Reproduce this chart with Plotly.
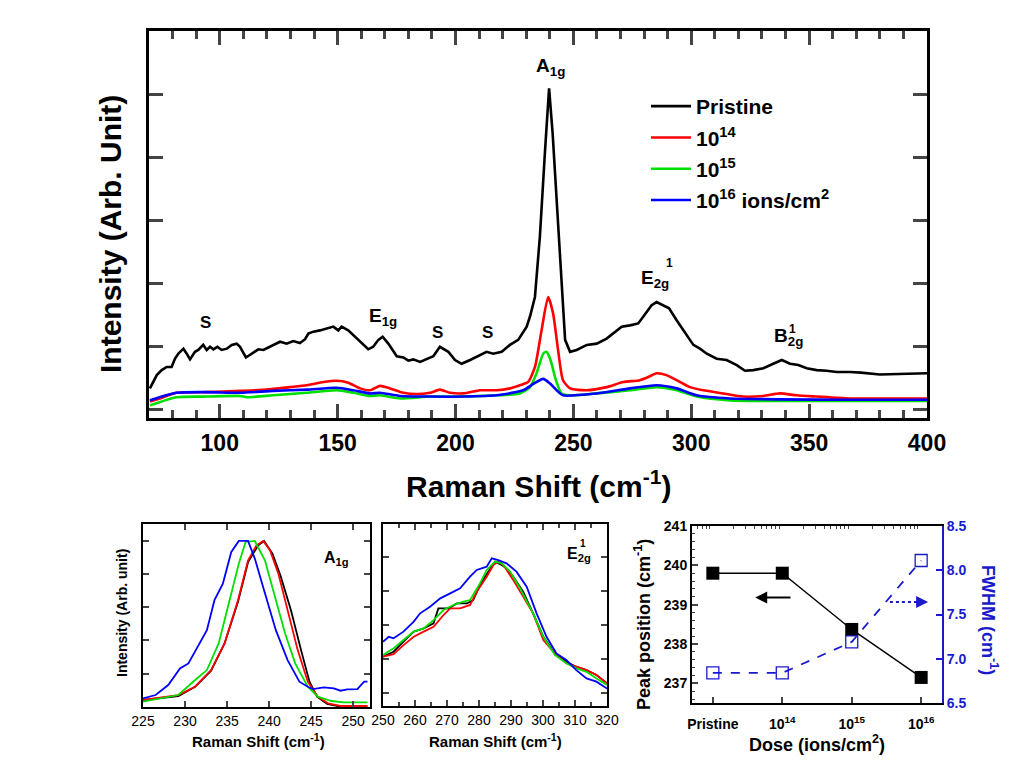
import plotly.graph_objects as go

FONT = "Liberation Sans, Arial, sans-serif"
BLACK, RED, GREEN, BLUE, NAVY = "#000000", "#ff0000", "#00e000", "#0000ff", "#1a1acc"

# ---------------- main spectrum data ----------------
pr_x = [70.4, 73.3, 75.4, 77.5, 79.6, 81.0, 82.4, 84.6, 86.0, 87.4, 89.5, 90.9, 93.0, 94.5, 95.9, 97.3, 99.0,
        100.8, 103.0, 105.1, 107.2, 108.6, 111.1, 113.6, 116.4, 118.5, 120.6, 122.7, 125.6, 128.4, 131.2,
        134.0, 136.2, 137.6, 139.7, 142.5, 145.4, 148.2, 150.3, 151.7, 154.5, 156.7, 160.2, 163.0, 165.1,
        167.3, 169.1, 171.5, 175.1, 177.9, 180.0, 182.1, 185.0, 187.8, 190.6, 193.4, 197.0, 199.8, 202.6,
        206.2, 210.4, 213.2, 216.0, 219.6, 223.1, 226.6, 230.2, 231.6, 233.7, 235.8, 238.0, 239.7, 241.2,
        242.9, 244.8, 246.5, 248.6, 251.4, 255.7, 259.9, 264.1, 266.9, 270.5, 274.0, 277.5, 279.7, 283.2,
        285.3, 288.1, 290.6, 293.8, 296.6, 300.9, 303.7, 306.6, 310.8, 315.0, 319.3, 322.8, 326.3, 330.6,
        334.8, 338.4, 341.9, 345.4, 349.0, 353.2, 357.4, 361.7, 367.3, 372.0, 380.0, 390.0, 400.0]
pr_y = [0.33, 0.54, 0.62, 0.67, 0.67, 0.80, 0.88, 0.96, 0.88, 0.79, 0.91, 0.94, 1.02, 0.94, 0.99, 0.95, 0.99,
        0.94, 0.96, 1.02, 1.04, 0.99, 0.82, 0.88, 0.95, 0.94, 0.98, 1.02, 1.07, 1.04, 1.08,
        1.05, 1.11, 1.20, 1.23, 1.25, 1.28, 1.31, 1.25, 1.31, 1.25, 1.17, 1.04, 0.95, 0.99,
        1.10, 1.15, 1.04, 0.84, 0.82, 0.77, 0.79, 0.75, 0.79, 0.84, 0.99, 0.91, 0.78, 0.72,
        0.78, 0.86, 0.91, 0.88, 0.91, 1.02, 1.10, 1.31, 1.47, 1.78, 2.74, 4.11, 5.09, 4.38,
        3.32, 2.00, 1.10, 0.91, 0.94, 1.02, 1.04, 1.12, 1.20, 1.31, 1.33, 1.36, 1.47, 1.65,
        1.70, 1.65, 1.60, 1.41, 1.25, 1.02, 0.96, 0.88, 0.80, 0.78, 0.70, 0.61, 0.62, 0.65,
        0.72, 0.78, 0.72, 0.70, 0.65, 0.62, 0.61, 0.59, 0.59, 0.58, 0.55, 0.56, 0.57]

d14_x = [70.4, 74.6, 81.7, 94.5, 108.6, 119.9, 129.8, 136.9, 144.0, 149.6, 154.5, 159.5, 163.7, 168.0, 172.2,
         177.9, 183.5, 189.2, 193.4, 197.7, 203.3, 210.4, 217.4, 223.1, 227.3, 230.8, 233.7, 236.5, 239.3,
         241.4, 243.5, 245.6, 248.6, 255.7, 264.1, 271.2, 278.2, 281.8, 285.3, 289.5, 293.8, 299.4, 305.1,
         313.5, 322.0, 330.6, 337.6, 344.7, 353.2, 367.3, 385.0, 400.0]
d14_y = [0.12, 0.17, 0.26, 0.27, 0.29, 0.31, 0.35, 0.38, 0.43, 0.45, 0.42, 0.33, 0.30, 0.37, 0.33,
         0.26, 0.24, 0.26, 0.31, 0.26, 0.25, 0.30, 0.30, 0.33, 0.38, 0.43, 0.67, 1.25, 1.78,
         1.52, 0.94, 0.46, 0.33, 0.30, 0.35, 0.43, 0.46, 0.51, 0.57, 0.54, 0.46, 0.35, 0.30,
         0.25, 0.20, 0.21, 0.25, 0.22, 0.20, 0.17, 0.17, 0.17]

d15_x = [70.4, 81.7, 94.5, 108.6, 111.5, 122.7, 136.9, 149.6, 156.7, 163.7, 168.0, 176.5, 189.2, 203.3,
         217.4, 227.3, 231.6, 234.4, 237.2, 238.6, 240.3, 242.6, 245.0, 248.6, 259.9, 274.0, 285.3,
         293.8, 302.3, 316.4, 367.3, 400.0]
d15_y = [0.06, 0.19, 0.20, 0.21, 0.19, 0.22, 0.26, 0.30, 0.26, 0.21, 0.22, 0.17, 0.20, 0.20,
         0.22, 0.25, 0.35, 0.57, 0.88, 0.91, 0.78, 0.46, 0.25, 0.22, 0.25, 0.30, 0.35,
         0.30, 0.20, 0.14, 0.13, 0.13]

d16_x = [70.4, 81.7, 94.5, 108.6, 122.7, 136.9, 149.6, 156.7, 163.7, 168.0, 176.5, 189.2, 203.3, 217.4,
         228.7, 233.0, 237.2, 240.0, 242.9, 245.6, 259.9, 274.0, 285.3, 293.8, 302.3, 316.4, 367.3, 400.0]
d16_y = [0.14, 0.26, 0.27, 0.26, 0.29, 0.31, 0.34, 0.30, 0.25, 0.26, 0.21, 0.20, 0.20, 0.22,
         0.30, 0.40, 0.48, 0.41, 0.30, 0.22, 0.25, 0.33, 0.38, 0.33, 0.22, 0.17, 0.15, 0.15]

legend_names = ["Pristine", "10<sup>14</sup>", "10<sup>15</sup>", "10<sup>16</sup> ions/cm<sup>2</sup>"]

# ---------------- A1g zoom (normalised) ----------------
a_pr_x = [225.0, 229.2, 231.2, 233.1, 234.7, 236.3, 237.5, 238.7, 239.4, 240.4, 241.4, 242.6, 243.8, 244.8,
          245.7, 246.9, 248.5, 251.7]
a_pr_y = [0.042, 0.066, 0.122, 0.218, 0.382, 0.632, 0.872, 0.972, 0.998, 0.922, 0.782, 0.582, 0.342, 0.152,
          0.062, 0.018, 0.002, 0.002]
a_14_x = [225.0, 229.2, 231.2, 233.1, 234.7, 236.3, 237.5, 238.5, 239.3, 240.1, 241.1, 242.2, 243.4, 244.6,
          245.8, 247.0, 248.5, 251.7]
a_14_y = [0.042, 0.072, 0.122, 0.222, 0.382, 0.642, 0.882, 0.972, 0.998, 0.942, 0.802, 0.582, 0.342, 0.152,
          0.062, 0.022, 0.006, 0.006]
a_15_x = [225.0, 229.2, 231.2, 232.6, 234.0, 235.1, 236.4, 237.2, 238.3, 239.5, 240.7, 241.9, 243.1, 244.6,
          245.8, 247.4, 248.9, 251.7]
a_15_y = [0.032, 0.072, 0.162, 0.222, 0.382, 0.602, 0.862, 0.992, 0.998, 0.882, 0.662, 0.442, 0.262, 0.122,
          0.062, 0.036, 0.028, 0.028]
a_16_x = [225.0, 226.5, 228.0, 229.4, 230.4, 232.6, 233.5, 234.5, 235.5, 236.4, 237.5, 238.3, 239.4, 240.8,
          242.2, 243.6, 244.6, 245.2, 246.5, 247.7, 248.5, 249.3, 250.5, 251.3, 251.7]
a_16_y = [0.052, 0.072, 0.132, 0.232, 0.262, 0.462, 0.642, 0.742, 0.932, 0.998, 0.998, 0.892, 0.702, 0.462,
          0.282, 0.152, 0.122, 0.108, 0.118, 0.112, 0.098, 0.106, 0.108, 0.152, 0.152]

# ---------------- E2g zoom (normalised) ----------------
e_pr_x = [250.0, 253.3, 256.4, 259.6, 262.7, 265.8, 267.3, 270.5, 273.1, 276.2, 278.2, 280.3, 282.9, 285.0,
          287.1, 288.6, 290.7, 293.8, 296.9, 300.1, 303.7, 307.3, 310.4, 313.6, 316.7, 320.0]
e_pr_y = [0.414, 0.443, 0.502, 0.561, 0.580, 0.610, 0.698, 0.698, 0.727, 0.727, 0.747, 0.835, 0.914, 0.973,
          0.953, 0.933, 0.884, 0.796, 0.669, 0.531, 0.433, 0.384, 0.355, 0.335, 0.306, 0.257]
e_14_x = [250.0, 253.3, 256.4, 259.6, 262.7, 265.8, 268.9, 271.0, 274.1, 277.2, 279.3, 282.4, 284.5, 286.0,
          287.6, 290.7, 293.8, 296.9, 300.1, 303.7, 307.3, 310.4, 313.6, 316.7, 320.0]
e_14_y = [0.414, 0.429, 0.482, 0.531, 0.561, 0.590, 0.659, 0.698, 0.698, 0.718, 0.796, 0.884, 0.953, 0.973,
          0.953, 0.865, 0.767, 0.669, 0.512, 0.433, 0.375, 0.355, 0.335, 0.306, 0.257]
e_15_x = [250.0, 253.3, 256.4, 259.6, 262.7, 265.8, 268.9, 272.0, 275.1, 277.2, 280.3, 282.4, 285.0, 287.1,
          289.7, 292.8, 296.9, 300.1, 303.7, 307.3, 310.4, 313.6, 316.7, 320.0]
e_15_y = [0.424, 0.463, 0.512, 0.561, 0.580, 0.629, 0.688, 0.718, 0.737, 0.747, 0.845, 0.924, 0.973, 0.963,
          0.914, 0.816, 0.669, 0.531, 0.424, 0.375, 0.345, 0.325, 0.286, 0.247]
e_16_x = [250.0, 251.8, 253.3, 256.4, 259.6, 261.6, 264.7, 267.9, 271.0, 274.1, 277.2, 279.3, 282.4, 284.0,
          286.0, 288.6, 291.7, 294.9, 298.0, 301.1, 304.2, 307.3, 310.4, 313.6, 316.7, 320.0]
e_16_y = [0.502, 0.531, 0.522, 0.561, 0.620, 0.669, 0.708, 0.757, 0.786, 0.816, 0.884, 0.924, 0.943, 0.992,
          0.982, 0.963, 0.914, 0.825, 0.669, 0.531, 0.433, 0.394, 0.335, 0.286, 0.267, 0.227]

# ---------------- dose dependence ----------------
dose = [1e13, 1e14, 1e15, 1e16]
dose_labels = ["Pristine", "10<sup>14</sup>", "10<sup>15</sup>", "10<sup>16</sup>"]
peak_pos = [239.8, 239.8, 238.37, 237.15]
fwhm = [6.84, 6.84, 7.19, 8.11]

fig = go.Figure()

cols = [BLACK, RED, GREEN, BLUE]
main_sets = [(pr_x, pr_y), (d14_x, d14_y), (d15_x, d15_y), (d16_x, d16_y)]
for i, ((xs, ys), c, nm) in enumerate(zip(main_sets, cols, legend_names)):
    fig.add_trace(go.Scatter(x=xs, y=ys, mode="lines", name=nm, legendgroup=f"g{i}",
                             line=dict(color=c, width=2.6, shape="linear" if i == 0 else "spline", smoothing=0.6),
                             xaxis="x", yaxis="y"))

a_sets = [(a_pr_x, a_pr_y), (a_14_x, a_14_y), (a_15_x, a_15_y), (a_16_x, a_16_y)]
for (xs, ys), c in zip(a_sets, cols):
    fig.add_trace(go.Scatter(x=xs, y=ys, mode="lines", showlegend=False,
                             line=dict(color=c, width=1.8), xaxis="x2", yaxis="y2"))
e_sets = [(e_pr_x, e_pr_y), (e_14_x, e_14_y), (e_15_x, e_15_y), (e_16_x, e_16_y)]
for (xs, ys), c in zip(e_sets, cols):
    fig.add_trace(go.Scatter(x=xs, y=ys, mode="lines", showlegend=False,
                             line=dict(color=c, width=1.8), xaxis="x3", yaxis="y3"))

fig.add_trace(go.Scatter(x=dose, y=fwhm, mode="lines+markers", showlegend=False,
                         line=dict(color=NAVY, width=1.8, dash="dash"),
                         marker=dict(symbol="square-open", size=12, color=NAVY, line=dict(width=1.3)),
                         xaxis="x4", yaxis="y5"))
fig.add_trace(go.Scatter(x=dose, y=peak_pos, mode="lines+markers", showlegend=False,
                         line=dict(color=BLACK, width=1.4),
                         marker=dict(symbol="square", size=13, color=BLACK),
                         xaxis="x4", yaxis="y4"))
# dotted arrow shaft for FWHM
fig.add_trace(go.Scatter(x=[10 ** 15.55, 10 ** 15.97], y=[7.64, 7.64], mode="lines", showlegend=False,
                         line=dict(color=NAVY, width=2, dash="dot"), xaxis="x4", yaxis="y5"))
# helper trace so the top minor-tick axis is drawn
fig.add_trace(go.Scatter(x=[1e13], y=[None], mode="lines", showlegend=False, xaxis="x5", yaxis="y4"))

# page body has an 8px margin: figure is 1010x753 and target pixels are shifted by 8
OFF, W, H = 8, 1010, 753
def P(px, py):
    return (px - OFF) / W, 1 - (py - OFF) / H

tickfont_main = dict(family=FONT, size=23, color="black", weight="bold")
ax_common = dict(showgrid=False, zeroline=False, showline=True, linecolor="black", mirror="ticks",
                 ticks="inside", automargin=False)

x0, y0 = P(149, 418); x1, y1 = P(927, 31)
fig.update_layout(
    xaxis=dict(domain=[x0, x1], anchor="y", range=[70, 400], tick0=0, dtick=50, tickfont=tickfont_main,
               linewidth=3, tickwidth=2.5, ticklen=14, ticklabelstandoff=2,
               minor=dict(dtick=10, ticklen=8, tickwidth=2.5, ticks="inside"), **ax_common),
    yaxis=dict(domain=[y0, y1], anchor="x", range=[-0.14, 6.0], tick0=0, dtick=1, showticklabels=False,
               linewidth=3, tickwidth=2.5, ticklen=14, **ax_common),
)

small_tick = dict(family=FONT, size=14, color="black")
bx0, by0 = P(143, 707); bx1, by1 = P(370, 524)
fig.update_layout(
    xaxis2=dict(domain=[bx0, bx1], anchor="y2", range=[225, 252], tick0=225, dtick=5, tickfont=small_tick,
                linewidth=2, tickwidth=1.8, ticklen=6, **ax_common),
    yaxis2=dict(domain=[by0, by1], anchor="x2", range=[0, 1.1], tick0=0, dtick=0.2, showticklabels=False,
                linewidth=2, tickwidth=1.8, ticklen=6, **ax_common),
)
cx0, cy0 = P(383, 706); cx1, cy1 = P(607, 524)
fig.update_layout(
    xaxis3=dict(domain=[cx0, cx1], anchor="y3", range=[250, 320], tick0=250, dtick=10, tickfont=small_tick,
                linewidth=2, tickwidth=1.8, ticklen=6,
                minor=dict(dtick=5, ticklen=4, tickwidth=1.5, ticks="inside"), **ax_common),
    yaxis3=dict(domain=[cy0, cy1], anchor="x3", range=[0.124, 1.194], tick0=0, dtick=0.2,
                showticklabels=False, linewidth=2, tickwidth=1.8, ticklen=6, **ax_common),
)
dx0, dy0 = P(692, 703); dx1, dy1 = P(942, 526)
bold14 = dict(family=FONT, size=14, color="black", weight="bold")
fig.update_layout(
    xaxis4=dict(domain=[dx0, dx1], anchor="y4", type="log", range=[12.7, 16.3], tickvals=dose,
                ticktext=dose_labels, tickfont=bold14, linewidth=2, tickwidth=1.6, ticklen=6,
                ticklabelstandoff=7,
                showgrid=False, zeroline=False, showline=True, linecolor="black", mirror=True, ticks="inside",
                automargin=False),
    xaxis5=dict(overlaying="x4", anchor="y4", side="top", type="log", range=[12.7, 16.3],
                tickvals=[k * 10 ** d for d in range(12, 17) for k in range(2, 10)],
                showticklabels=False, ticks="inside", ticklen=3, tickwidth=1.2, showgrid=False,
                zeroline=False, showline=False, automargin=False),
    yaxis4=dict(domain=[dy0, dy1], anchor="x4", range=[236.5, 241], tick0=237, dtick=1, tickfont=bold14,
                linewidth=2, tickwidth=1.6, ticklen=6, showgrid=False, zeroline=False, showline=True,
                linecolor="black", mirror=False, ticks="inside", automargin=False,
                minor=dict(dtick=0.2, ticklen=3, tickwidth=1.2, ticks="inside")),
    yaxis5=dict(overlaying="y4", anchor="x4", side="right", range=[6.5, 8.5], tick0=6.5, dtick=0.5,
                tickformat=".1f", tickfont=dict(family=FONT, size=14, color=NAVY, weight="bold"),
                linewidth=2, linecolor=NAVY, tickcolor=NAVY, tickwidth=1.6, ticklen=6, showline=True,
                showgrid=False, zeroline=False, ticks="inside", automargin=False),
)

ann = []
def txt(x, y, s, size, ref="x", yref="y", **kw):
    d = dict(x=x, y=y, xref=ref, yref=yref, text=s, showarrow=False, xanchor="center", yanchor="middle",
             font=dict(family=FONT, size=size, color=kw.pop("color", "black"), weight="bold"))
    d.update(kw)
    ann.append(d)

# main peak labels
txt(93.8, 1.38, "S", 17)
txt(169.2, 1.47, "E<sub>1g</sub>", 19)
txt(192.2, 1.22, "S", 17)
txt(213.4, 1.21, "S", 17)
txt(240.5, 5.43, "A<sub>1g</sub>", 19)
txt(284.5, 2.06, "E<sub>2g</sub>", 19)
txt(290.8, 2.32, "1", 12)
txt(341.2, 1.15, "B<sub>2g</sub>", 19)
txt(342.8, 1.28, "1", 12)
# inset labels
txt(248.0, 0.89, "A<sub>1g</sub>", 16, "x2", "y2")
txt(311.4, 1.015, "E<sub>2g</sub>", 16, "x3", "y3")
txt(312.4, 1.08, "1", 10, "x3", "y3")

# axis titles (paper)
def ptxt(px, py, s, size, angle=0, color="black"):
    x, y = P(px, py)
    ann.append(dict(x=x, y=y, xref="paper", yref="paper", text=s, showarrow=False, textangle=angle,
                    xanchor="center", yanchor="middle",
                    font=dict(family=FONT, size=size, color=color, weight="bold")))

ptxt(538, 484, "Raman Shift (cm<sup>-1</sup>)", 30)
ptxt(111, 234, "Intensity (Arb. Unit)", 30, -90)
ptxt(122, 613, "Intensity (Arb. unit)", 14, -90)
ptxt(258, 740, "Raman Shift (cm<sup>-1</sup>)", 15)
ptxt(495, 740, "Raman Shift (cm<sup>-1</sup>)", 15)
ptxt(817, 743, "Dose (ions/cm<sup>2</sup>)", 18)
ptxt(642, 625, "Peak position (cm<sup>-1</sup>)", 18, -90)
ptxt(990, 620, "FWHM (cm<sup>-1</sup>)", 18, 90, NAVY)

# arrows in dose panel
ann.append(dict(x=13.61, y=239.18, ax=14.14, ay=239.18, xref="x4", yref="y4", axref="x4", ayref="y4",
                showarrow=True, arrowhead=2, arrowsize=1.2, arrowwidth=2, arrowcolor="black", text=""))
ann.append(dict(x=16.10, y=7.64, ax=15.95, ay=7.64, xref="x4", yref="y5", axref="x4", ayref="y5",
                showarrow=True, arrowhead=2, arrowsize=1.2, arrowwidth=2, arrowcolor=NAVY, text=""))

lx, ly = P(646, 86)
fig.update_layout(
    width=W, height=H, autosize=False, margin=dict(l=0, r=0, t=0, b=0),
    paper_bgcolor="white", plot_bgcolor="white", annotations=ann,
    legend=dict(x=lx, y=ly, xanchor="left", yanchor="top", bgcolor="rgba(0,0,0,0)",
                font=dict(family=FONT, size=21, color="black", weight="bold"),
                tracegroupgap=1, traceorder="grouped", itemwidth=40),
    showlegend=True,
)

fig.write_html("out.html")
